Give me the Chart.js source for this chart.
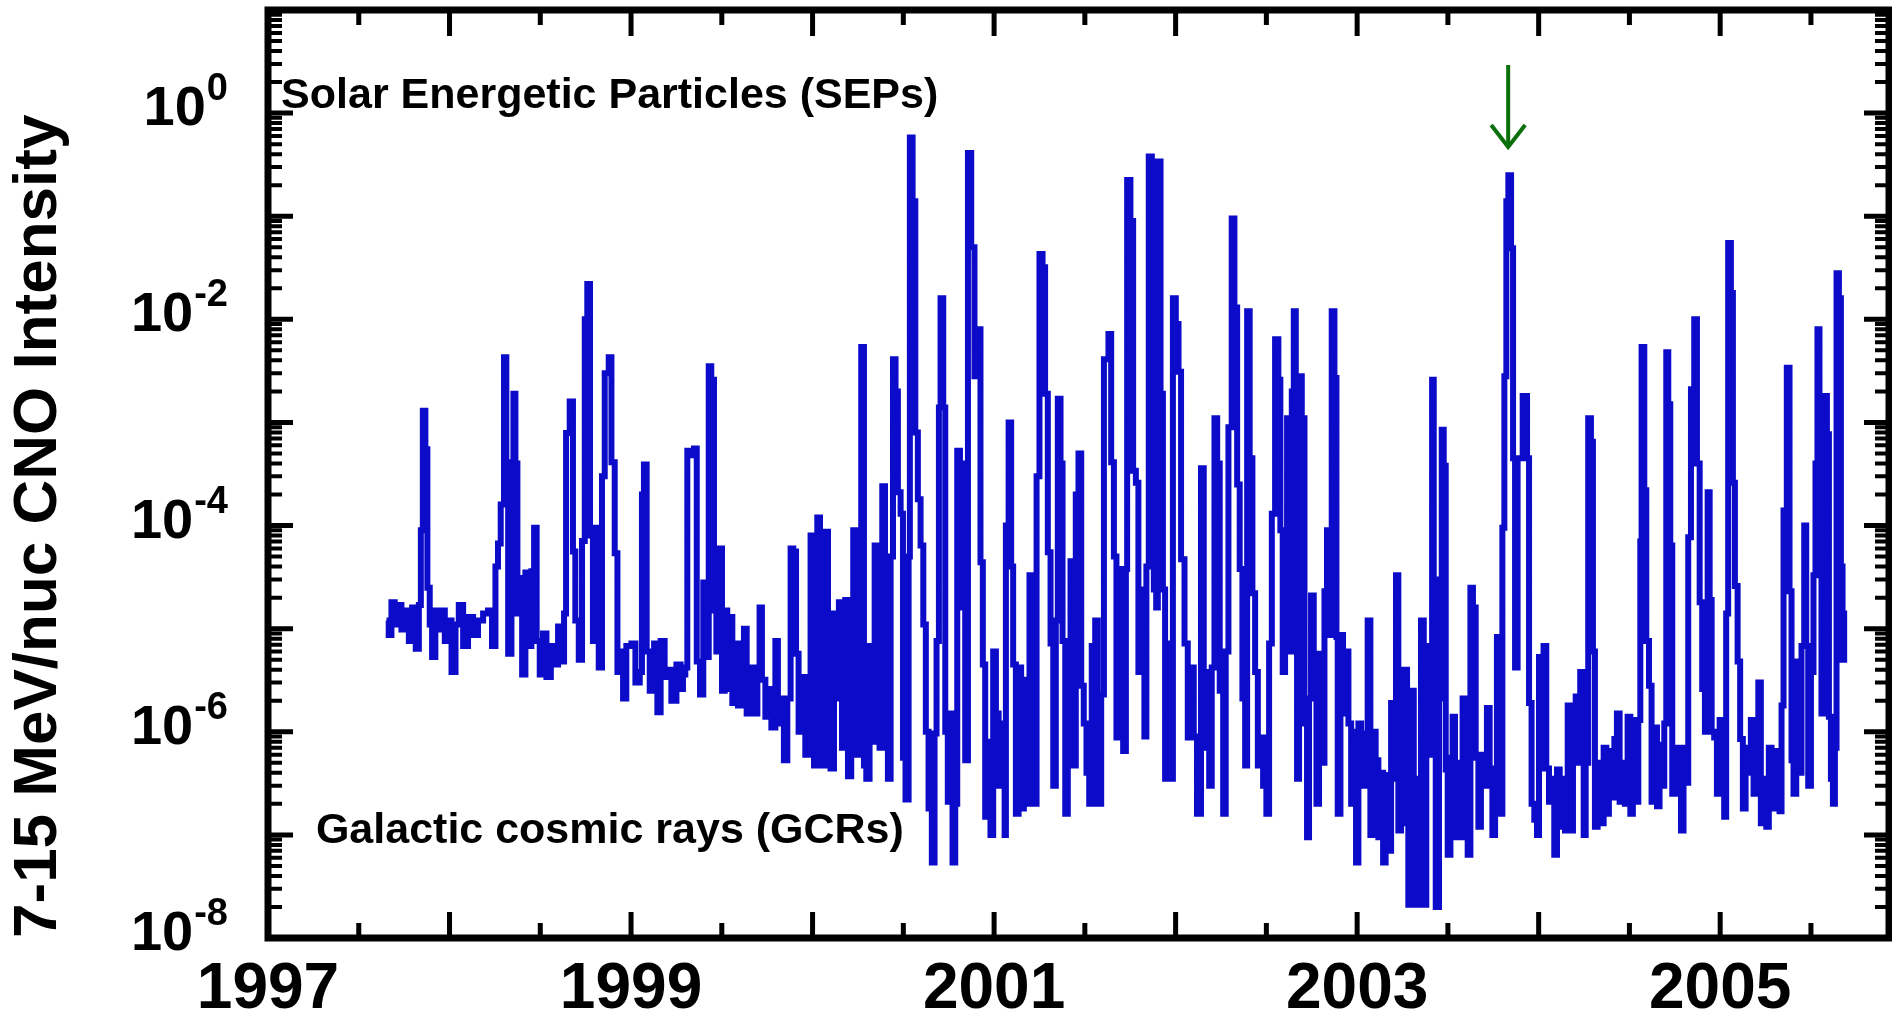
<!DOCTYPE html>
<html>
<head>
<meta charset="utf-8">
<title>7-15 MeV/nuc CNO Intensity</title>
<script src="https://cdn.jsdelivr.net/npm/chart.js@4.4.1/dist/chart.umd.min.js"></script>
<style>
  html, body { margin: 0; padding: 0; background: #fff; }
  canvas { display: block; }
</style>
</head>
<body>
<canvas id="cnoChart" width="1892" height="1022"></canvas>
<script>
// time axis (decimal year) and CNO intensity
const years = [
  1997.653, 1997.665, 1997.680, 1997.698, 1997.717, 1997.735, 1997.754, 1997.776, 1997.794, 1997.814,
  1997.831, 1997.842, 1997.853, 1997.867, 1997.878, 1997.891, 1997.904, 1997.922, 1997.937, 1997.955,
  1997.974, 1997.996, 1998.011, 1998.033, 1998.051, 1998.075, 1998.102, 1998.130, 1998.157, 1998.185,
  1998.212, 1998.234, 1998.253, 1998.267, 1998.282, 1998.300, 1998.313, 1998.323, 1998.341, 1998.352,
  1998.363, 1998.374, 1998.389, 1998.400, 1998.418, 1998.436, 1998.451, 1998.466, 1998.480, 1998.497,
  1998.515, 1998.534, 1998.558, 1998.580, 1998.598, 1998.616, 1998.631, 1998.642, 1998.662, 1998.680,
  1998.693, 1998.712, 1998.730, 1998.745, 1998.759, 1998.774, 1998.790, 1998.803, 1998.822, 1998.840,
  1998.855, 1998.877, 1998.892, 1998.910, 1998.925, 1998.943, 1998.956, 1998.974, 1999.002, 1999.024,
  1999.048, 1999.060, 1999.071, 1999.086, 1999.103, 1999.127, 1999.145, 1999.163, 1999.185, 1999.204,
  1999.222, 1999.250, 1999.273,
  1999.286, 1999.299, 1999.310, 1999.328, 1999.347, 1999.362, 1999.380, 1999.398, 1999.413, 1999.428,
  1999.442, 1999.457, 1999.470, 1999.488, 1999.501, 1999.516, 1999.530, 1999.543, 1999.558, 1999.574,
  1999.589, 1999.607, 1999.622, 1999.637, 1999.659, 1999.677, 1999.696, 1999.708, 1999.721, 1999.740,
  1999.758, 1999.773, 1999.795, 1999.809, 1999.828, 1999.842, 1999.861, 1999.879, 1999.894, 1999.909,
  1999.923, 1999.942, 1999.960, 1999.975, 1999.989, 2000.008, 2000.026, 2000.041, 2000.052, 2000.070,
  2000.085, 2000.099, 2000.118, 2000.132, 2000.145, 2000.162, 2000.180, 2000.195, 2000.213, 2000.224,
  2000.239, 2000.254, 2000.268, 2000.283, 2000.296, 2000.314, 2000.327, 2000.342, 2000.356, 2000.369,
  2000.384, 2000.399, 2000.415, 2000.430, 2000.443, 2000.457, 2000.470, 2000.485, 2000.498, 2000.512,
  2000.529, 2000.536, 2000.551, 2000.566, 2000.580, 2000.595, 2000.610, 2000.624, 2000.639, 2000.657,
  2000.672, 2000.683, 2000.696, 2000.705, 2000.720, 2000.731, 2000.745, 2000.760, 2000.771, 2000.786,
  2000.797, 2000.812, 2000.828, 2000.841, 2000.856, 2000.874, 2000.892, 2000.911, 2000.925,
  2000.938, 2000.951, 2000.966, 2000.980, 2000.995, 2001.010, 2001.025, 2001.039, 2001.058, 2001.065,
  2001.080, 2001.094, 2001.105, 2001.120, 2001.135, 2001.149, 2001.164, 2001.179, 2001.195, 2001.208,
  2001.223, 2001.234, 2001.250, 2001.267, 2001.281, 2001.296, 2001.311, 2001.326, 2001.340, 2001.351,
  2001.366, 2001.377, 2001.392, 2001.406, 2001.421, 2001.434, 2001.450, 2001.465, 2001.480, 2001.494,
  2001.509, 2001.524, 2001.538, 2001.557, 2001.571, 2001.590, 2001.605, 2001.630, 2001.645, 2001.660,
  2001.674, 2001.693, 2001.711, 2001.726, 2001.733, 2001.751, 2001.766, 2001.781, 2001.795, 2001.814,
  2001.828, 2001.839, 2001.852, 2001.869, 2001.880, 2001.893, 2001.902, 2001.917, 2001.930, 2001.942,
  2001.961, 2001.975, 2001.985, 2002.001, 2002.016, 2002.030, 2002.049, 2002.067, 2002.085, 2002.100,
  2002.118, 2002.140, 2002.155, 2002.170, 2002.185, 2002.199, 2002.214, 2002.229, 2002.243, 2002.262,
  2002.276, 2002.291, 2002.309, 2002.324, 2002.339, 2002.353, 2002.368, 2002.383, 2002.394, 2002.408,
  2002.423, 2002.438, 2002.453, 2002.467, 2002.482, 2002.500, 2002.515, 2002.530, 2002.548, 2002.566,
  2002.577,
  2002.590, 2002.603, 2002.614, 2002.627, 2002.640, 2002.651, 2002.662, 2002.669, 2002.680, 2002.695,
  2002.710, 2002.724, 2002.735, 2002.746, 2002.761, 2002.776, 2002.790, 2002.805, 2002.820, 2002.834,
  2002.845, 2002.860, 2002.875, 2002.886, 2002.893, 2002.908, 2002.922, 2002.937, 2002.952, 2002.967,
  2002.985, 2002.994, 2003.007, 2003.022, 2003.040, 2003.058, 2003.073, 2003.088, 2003.102, 2003.117,
  2003.132, 2003.143, 2003.157, 2003.172, 2003.187, 2003.202, 2003.214, 2003.227, 2003.242, 2003.260,
  2003.275, 2003.282, 2003.297, 2003.312, 2003.324, 2003.337, 2003.352, 2003.367, 2003.381, 2003.396,
  2003.413, 2003.422, 2003.433, 2003.451, 2003.466, 2003.477, 2003.488, 2003.499, 2003.514, 2003.526,
  2003.539, 2003.554, 2003.569, 2003.581, 2003.594, 2003.609, 2003.624, 2003.638, 2003.653, 2003.668,
  2003.682, 2003.701, 2003.715, 2003.730, 2003.745, 2003.760, 2003.770, 2003.785, 2003.800, 2003.811,
  2003.822, 2003.833, 2003.848, 2003.859, 2003.870, 2003.884, 2003.899, 2003.912, 2003.925, 2003.936,
  2003.947, 2003.961, 2003.976, 2003.991, 2004.002, 2004.016, 2004.027, 2004.042, 2004.057, 2004.071,
  2004.086, 2004.101, 2004.116, 2004.130, 2004.145, 2004.160, 2004.174, 2004.189, 2004.204, 2004.218,
  2004.229,
  2004.237, 2004.248, 2004.259, 2004.266, 2004.273, 2004.288, 2004.299, 2004.310, 2004.325, 2004.340,
  2004.358, 2004.373, 2004.387, 2004.402, 2004.417, 2004.431, 2004.446, 2004.461, 2004.475, 2004.490,
  2004.505, 2004.519, 2004.534, 2004.549, 2004.560, 2004.567, 2004.582, 2004.593, 2004.608, 2004.622,
  2004.637, 2004.652, 2004.666, 2004.681, 2004.692, 2004.703, 2004.714, 2004.725, 2004.736, 2004.751,
  2004.765, 2004.784, 2004.798, 2004.813, 2004.824, 2004.839, 2004.857, 2004.872, 2004.887, 2004.901,
  2004.916, 2004.931, 2004.942, 2004.953, 2004.967, 2004.982, 2004.997, 2005.011, 2005.022, 2005.033,
  2005.044, 2005.059, 2005.070, 2005.081, 2005.096, 2005.110, 2005.125, 2005.140, 2005.155, 2005.169,
  2005.184, 2005.199, 2005.210, 2005.224, 2005.239, 2005.254, 2005.268, 2005.283, 2005.298, 2005.312,
  2005.327, 2005.338, 2005.349, 2005.367, 2005.382, 2005.393, 2005.404, 2005.419, 2005.434, 2005.448,
  2005.463, 2005.474, 2005.485, 2005.500, 2005.514, 2005.525, 2005.536, 2005.547, 2005.558, 2005.573,
  2005.588, 2005.599, 2005.610, 2005.621, 2005.632, 2005.641, 2005.654, 2005.665, 2005.674, 2005.683
];

const intensity = [
  1.2e-5, 8.7e-6, 1.8e-5, 1.1e-5, 1.7e-5, 9.8e-6, 1.5e-5, 7.6e-6, 1.6e-5, 6.4e-6,
  1.7e-5, 9e-5, 1.3e-3, 5.5e-4, 2.5e-5, 1.1e-5, 5.3e-6, 1.5e-5, 9.8e-6, 1.5e-5,
  7.6e-6, 1.2e-5, 3.8e-6, 1.1e-5, 1.7e-5, 6.8e-6, 1.3e-5, 8.7e-6, 1.2e-5, 1.4e-5,
  1.5e-5, 6.8e-6, 4.0e-5, 6.7e-5, 1.6e-4, 4.3e-3, 1.7e-4, 5.7e-6, 4.1e-4, 1.9e-3,
  4.0e-4, 1.4e-5, 3.1e-5, 3.6e-6, 3.5e-5, 6.8e-6, 3.6e-5, 9.5e-5, 7.6e-6, 3.6e-6,
  9e-6, 3.4e-6, 6.8e-6, 4.5e-6, 1.05e-5, 4.8e-6, 1.4e-5, 7.9e-4, 1.6e-3, 5.6e-5,
  1.2e-5, 5.0e-6, 7.1e-5, 1.0e-2, 2.2e-2, 8e-5, 7.6e-6, 9.5e-5, 4.2e-6, 3e-4,
  3.0e-3, 4.3e-3, 4.1e-4, 5.4e-5, 3.8e-6, 6e-6, 2.1e-6, 6.8e-6, 7.2e-6, 3e-6,
  3.8e-6, 2e-4, 3.9e-4, 6e-6, 2.5e-6, 7.2e-6, 1.55e-6, 7.6e-6, 3.4e-6, 4e-6,
  2e-6, 4.5e-6, 2.6e-6,
  3.6e-6, 4.2e-6, 5.3e-4, 4.8e-4, 5.6e-4, 4.8e-6, 2.3e-6, 2.8e-5, 5.3e-6, 3.5e-3,
  2.6e-3, 1.5e-5, 6e-6, 6.0e-5, 2.5e-6, 1.5e-5, 2.6e-6, 1.3e-5, 1.9e-6, 7.2e-6,
  1.8e-6, 6.8e-6, 1.0e-5, 1.5e-6, 4.2e-6, 1.5e-6, 3.4e-6, 1.6e-5, 3.2e-6, 1.4e-6,
  2.6e-6, 1.1e-6, 7.6e-6, 1.2e-6, 2.1e-6, 5.3e-7, 2.1e-6, 6e-5, 5.6e-5, 5.7e-6,
  1.0e-6, 3.4e-6, 6e-7, 2.6e-6, 8e-5, 4.7e-7, 1.2e-4, 5.6e-5, 4.7e-7, 8.7e-5,
  9.8e-6, 4.4e-7, 1.4e-5, 2.1e-6, 1.8e-5, 7e-7, 1.9e-5, 3.7e-7, 4.5e-6, 9e-5,
  6e-7, 6.8e-6, 5.4e-3, 4.7e-7, 3.5e-7, 6.8e-6, 8e-7, 6.4e-5, 1.2e-5, 7e-7,
  2.4e-4, 5e-5, 3.5e-7, 5e-5, 4.1e-3, 2e-3, 2.1e-4, 1.3e-4, 5.6e-7, 2.2e-7,
  5e-5, 0.58, 0.14, 8e-4, 1.8e-4, 6.4e-5, 1.1e-5, 1.0e-6, 1.8e-7, 5.4e-8,
  9.6e-7, 7.6e-6, 1.4e-3, 1.6e-2, 1.4e-3, 1.0e-6, 2.1e-7, 1.5e-6, 5.4e-8, 2e-7,
  5.3e-4, 1.6e-5, 4e-4, 5.3e-7, 0.41, 0.05, 2.8e-3, 8e-3, 4.4e-5,
  4.5e-6, 1.5e-7, 8e-7, 1.0e-7, 6e-6, 1.5e-6, 3e-7, 1.2e-6, 1.0e-7, 1.0e-4,
  1.0e-3, 4e-5, 4.5e-6, 1.6e-7, 4.2e-6, 1.8e-7, 3.2e-6, 2e-7, 3.3e-5, 6.8e-6,
  2e-7, 3e-4, 4.3e-2, 3.2e-2, 1.9e-3, 5.5e-5, 7.2e-6, 3e-7, 1.2e-5, 1.7e-3,
  4e-4, 7.6e-6, 1.6e-7, 7.2e-6, 4.5e-5, 4.7e-7, 2e-4, 5e-4, 2.8e-6, 1.2e-6,
  4e-7, 2e-7, 6.8e-6, 1.2e-5, 2e-7, 2.3e-6, 4.1e-3, 7.2e-3, 4.1e-4, 5e-5,
  8.8e-7, 3.8e-5, 6.5e-7, 3.8e-5, 0.224, 9e-2, 3.4e-4, 2.6e-4, 3.8e-6, 2.4e-5,
  9e-7, 4e-5, 0.38, 2.7e-2, 2.4e-5, 1.6e-5, 0.34, 1.9e-3, 2.4e-5, 3.5e-7,
  7.2e-6, 3.5e-7, 1.6e-2, 9e-3, 3.1e-3, 4.7e-5, 7.2e-6, 8.8e-7, 4.2e-6, 9e-7,
  1.6e-7, 3.6e-4, 3.8e-6, 7e-7, 3e-7, 4.2e-6, 1.1e-3, 4e-4, 2.5e-6, 1.6e-7,
  6e-6, 9e-4, 9.5e-2, 1.3e-2, 2.5e-4, 3.8e-5, 2.1e-6, 4.7e-7, 1.2e-2, 4.5e-4,
  2.2e-5, 3.8e-6, 4.7e-7, 8.8e-7, 3e-7, 1.6e-7, 7.2e-6, 1.3e-4, 6.4e-3, 2.6e-3,
  9e-5,
  3.8e-6, 6e-6, 1.1e-3, 6e-6, 2e-3, 1.2e-2, 1.4e-3, 3.5e-7, 2.8e-3, 1.1e-3,
  1.2e-6, 9.5e-8, 2.1e-6, 2.1e-5, 2.1e-6, 2e-7, 5.7e-6, 5e-7, 2.3e-5, 9e-5,
  8.7e-6, 1.2e-2, 2.7e-3, 8.3e-6, 1.6e-7, 8.7e-6, 1.5e-6, 6e-6, 1.2e-6, 2e-7,
  1.0e-6, 5.4e-8, 1.2e-6, 3e-7, 9.6e-7, 1.2e-5, 1.0e-7, 1.0e-6, 5.3e-7, 9.5e-8,
  4e-7, 5.4e-8, 3.8e-7, 7e-8, 1.9e-6, 3.5e-7, 3.3e-5, 1.1e-7, 1.0e-6, 4e-6,
  1.3e-7, 2.1e-8, 2.5e-6, 3.5e-7, 2.1e-8, 3.5e-7, 1.2e-5, 2.1e-8, 6.8e-6, 6e-7,
  2.6e-3, 3e-5, 2e-8, 2.1e-6, 8.5e-4, 3.8e-4, 4.3e-7, 6.4e-8, 5.6e-7, 1.4e-6,
  9.5e-8, 5e-7, 9.5e-8, 2.1e-6, 1.0e-6, 6.4e-8, 2.5e-5, 1.6e-5, 5.6e-7, 1.2e-7,
  6e-7, 3e-7, 1.7e-6, 3.5e-7, 1.0e-7, 4.4e-7, 8.3e-6, 1.6e-7, 9.5e-5, 2.8e-3,
  0.14, 0.25, 4.9e-2, 4.5e-4, 4.2e-6, 4.5e-4, 4.5e-4, 1.8e-3, 1.8e-3, 4.5e-4,
  1.9e-6, 2e-7, 1.4e-7, 1.0e-7, 5.3e-6, 4.4e-7, 6.8e-6, 4.4e-7, 2.1e-7, 3.5e-7,
  6.4e-8, 4.3e-7, 1.2e-7, 3.5e-7, 1.1e-7, 1.8e-6, 1.1e-7, 5e-7, 2.2e-6, 5e-7,
  3.8e-6,
  3.8e-6, 1.0e-7, 3.8e-6, 5e-7, 1.1e-3, 6.5e-4, 6e-6, 1.2e-7, 5e-7, 1.3e-7,
  7e-7, 1.6e-7, 6.5e-7, 2.3e-7, 8.5e-7, 1.5e-6, 2.1e-7, 5e-7, 2e-7, 1.4e-6,
  1.6e-7, 1.3e-6, 2.1e-7, 1.3e-6, 7e-5, 5.4e-3, 2.2e-4, 7.6e-6, 2.8e-6, 2.1e-7,
  1.1e-6, 1.9e-7, 7.5e-7, 3e-7, 1.2e-6, 4.8e-3, 1.5e-3, 6.4e-5, 2.5e-7, 7e-7,
  3.2e-7, 1.1e-7, 7e-7, 3.2e-7, 7.7e-5, 2.1e-3, 1e-2, 4e-4, 1.8e-5, 2.6e-6,
  1.0e-6, 2.1e-4, 1.9e-5, 1.0e-6, 8.8e-7, 2.5e-7, 1.3e-6, 3.5e-7, 1.5e-7, 1.4e-5,
  5.5e-2, 1.8e-2, 2.6e-4, 2.6e-5, 4.8e-6, 8.5e-7, 1.8e-7, 7e-7, 4e-7, 1.3e-6,
  2.5e-7, 1.2e-6, 3e-6, 1.3e-7, 3.5e-7, 1.2e-7, 7e-7, 1.8e-7, 6.5e-7, 3.5e-7,
  1.7e-7, 1.8e-6, 1.4e-4, 3.4e-3, 2.3e-5, 5.3e-7, 2.5e-7, 4.8e-6, 4e-7, 6.8e-6,
  1.0e-4, 6.8e-6, 3e-7, 3.8e-6, 3.3e-5, 4e-4, 8e-3, 1.8e-3, 1.5e-6, 1.8e-3,
  7.7e-4, 1.4e-6, 3.5e-7, 2e-7, 7e-7, 2.8e-2, 1.6e-2, 4e-5, 5e-6, 1.5e-5
];

const xTickYears = [1997, 1997.5, 1998, 1998.5, 1999, 1999.5, 2000, 2000.5, 2001,
  2001.5, 2002, 2002.5, 2003, 2003.5, 2004, 2004.5, 2005, 2005.5];
const xLabelYears = [1997, 1999, 2001, 2003, 2005];
const yDecades = [-8, -7, -6, -5, -4, -3, -2, -1, 0, 1];
const yLabelExponents = [0, -2, -4, -6, -8];

// annotations (data coordinates)
const sepNote = { text: 'Solar Energetic Particles (SEPs)', year: 1997.072, value: 1.12 };
const gcrNote = { text: 'Galactic cosmic rays (GCRs)', year: 1997.264, value: 8.3e-8 };
const arrow = { year: 2003.832, from: 2.93, to: 0.47 };

const FONT = "'Liberation Sans', Arial, Helvetica, sans-serif";

// every decade gets 1..9 ticks (minor ones drawn shorter)
const yTickValues = [];
yDecades.forEach(d => {
  const base = Math.pow(10, d);
  for (let m = 1; m <= 9; m++) {
    if (d === 1 && m > 1) break;
    yTickValues.push(m * base);
  }
});

const isDecade = v => {
  const l = Math.log10(v);
  return Math.abs(l - Math.round(l)) < 1e-6;
};

const framePlugin = {
  id: 'frame',
  afterDatasetsDraw(chart) {
    const { ctx, chartArea: a, scales: { x, y } } = chart;
    ctx.save();
    ctx.strokeStyle = '#000';
    ctx.fillStyle = '#000';

    // inward ticks on all four sides
    x.ticks.forEach(t => {
      const px = x.getPixelForValue(t.value);
      const major = Number.isInteger(t.value);
      const len = major ? 26 : 15;
      ctx.lineWidth = 5;
      ctx.beginPath();
      ctx.moveTo(px, a.bottom); ctx.lineTo(px, a.bottom - len);
      ctx.moveTo(px, a.top); ctx.lineTo(px, a.top + len);
      ctx.stroke();
    });
    y.ticks.forEach(t => {
      const py = y.getPixelForValue(t.value);
      const major = isDecade(t.value);
      const len = major ? 25 : 14;
      ctx.lineWidth = major ? 5 : 4;
      ctx.beginPath();
      ctx.moveTo(a.left, py); ctx.lineTo(a.left + len, py);
      ctx.moveTo(a.right, py); ctx.lineTo(a.right - len, py);
      ctx.stroke();
    });

    // frame
    ctx.lineWidth = 7;
    ctx.strokeRect(a.left, a.top, a.right - a.left, a.bottom - a.top);

    // y labels 10^n
    ctx.textBaseline = 'alphabetic';
    ctx.textAlign = 'right';
    const right = a.left - 40;
    yLabelExponents.forEach(e => {
      const py = y.getPixelForValue(Math.pow(10, e));
      const sup = String(e);
      ctx.font = `bold 38px ${FONT}`;
      const supW = ctx.measureText(sup).width;
      ctx.fillText(sup, right, py - 13);
      ctx.font = `bold 56px ${FONT}`;
      ctx.fillText('10', right - supW - 1, py + 12);
    });

    // text notes
    ctx.textAlign = 'left';
    ctx.font = `bold 43px ${FONT}`;
    [sepNote, gcrNote].forEach(n => {
      ctx.fillText(n.text, x.getPixelForValue(n.year), y.getPixelForValue(n.value));
    });

    // green arrow over the 2003 event
    const ax = x.getPixelForValue(arrow.year);
    const y0 = y.getPixelForValue(arrow.from);
    const y1 = y.getPixelForValue(arrow.to);
    ctx.strokeStyle = '#0b700b';
    ctx.lineWidth = 4;
    ctx.beginPath();
    ctx.moveTo(ax, y0); ctx.lineTo(ax, y1 - 2);
    ctx.stroke();
    ctx.beginPath();
    ctx.moveTo(ax - 17, y1 - 22); ctx.lineTo(ax, y1); ctx.lineTo(ax + 17, y1 - 22);
    ctx.stroke();
    ctx.restore();
  }
};

new Chart(document.getElementById('cnoChart'), {
  type: 'line',
  data: {
    datasets: [{
      label: '7-15 MeV/nuc CNO',
      data: years.map((yr, i) => ({ x: yr, y: intensity[i] })),
      borderColor: '#0b0bc9',
      borderWidth: 6,
      borderJoinStyle: 'miter',
      stepped: true,
      pointRadius: 0,
      fill: false
    }]
  },
  options: {
    responsive: false,
    animation: false,
    layout: { padding: { top: 10, right: 3, left: 0, bottom: 0 } },
    plugins: { legend: { display: false }, tooltip: { enabled: false } },
    scales: {
      x: {
        type: 'linear',
        min: 1997,
        max: 2005.93,
        afterBuildTicks: s => { s.ticks = xTickYears.map(v => ({ value: v })); },
        afterFit: s => { s.height = 84; },
        grid: { display: false, drawTicks: false },
        border: { display: false },
        ticks: {
          autoSkip: false,
          maxRotation: 0,
          padding: 14,
          color: '#000',
          font: { family: FONT, size: 64, weight: 'bold' },
          callback: v => xLabelYears.includes(v) ? String(v) : ''
        }
      },
      y: {
        type: 'logarithmic',
        min: 1e-8,
        max: 10,
        afterBuildTicks: s => { s.ticks = yTickValues.map(v => ({ value: v })); },
        afterFit: s => { s.width = 268; },
        grid: { display: false, drawTicks: false },
        border: { display: false },
        ticks: { display: false },
        title: {
          display: true,
          text: '7-15 MeV/nuc CNO Intensity',
          align: 'start',
          color: '#000',
          font: { family: FONT, size: 62, weight: 'bold' },
          padding: { top: 2, bottom: 0 }
        }
      }
    }
  },
  plugins: [framePlugin]
});
</script>
</body>
</html>
